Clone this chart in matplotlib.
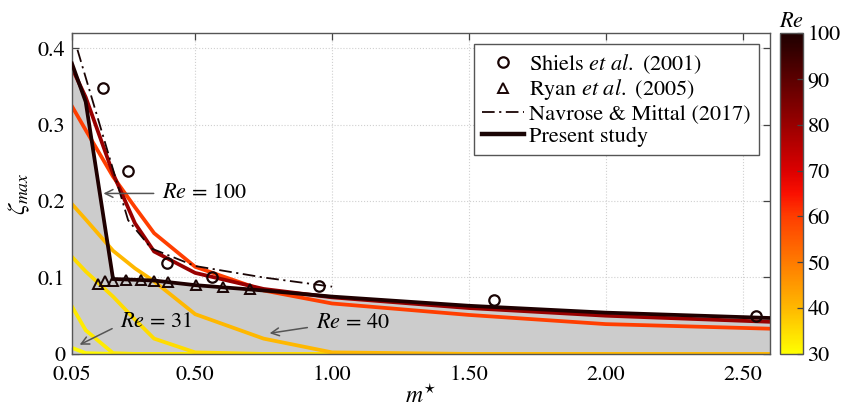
import numpy as np
import matplotlib
matplotlib.use("Agg")
from matplotlib import pyplot as plt
from matplotlib.colors import LinearSegmentedColormap, Normalize
from matplotlib.cm import ScalarMappable

# Times-like look: STIX ships with matplotlib
plt.rcParams["font.family"] = ["STIXGeneral", "Liberation Serif", "DejaVu Serif"]
plt.rcParams["mathtext.fontset"] = "stix"

# present study: zeta_max vs m* for several Re
m_grid = [0.05, 0.1, 0.2, 0.28, 0.35, 0.5, 0.75, 1.0, 1.5, 2.0, 2.6]
re_values = [31, 33, 35, 40, 60, 80, 100]
nan = np.nan
zeta_re31 = [0.008, 0.001, 0.0, 0.0, 0.0, 0.0, 0.0, 0.0, 0.0, 0.0, nan]
zeta_re33 = [0.062, 0.031, 0.001, 0.0, 0.0, 0.0, 0.0, 0.0, 0.0, 0.0, nan]
zeta_re35 = [0.127, 0.108, 0.075, 0.045, 0.020, 0.002, 0.0, 0.0, 0.0, 0.0, nan]
zeta_re40 = [0.196, 0.176, 0.135, 0.112, 0.095, 0.052, 0.020, 0.002, 0.0, 0.0, 0.0]
zeta_re60 = [0.324, 0.293, 0.232, 0.192, 0.158, 0.114, 0.083, 0.066, 0.051, 0.039, 0.033]
zeta_re80 = [0.374, 0.336, 0.236, 0.171, 0.134, 0.106, 0.085, 0.074, 0.060, 0.050, 0.042]
zeta_re100 = [0.380, 0.330, 0.098, 0.097, 0.096, 0.090, 0.083, 0.075, 0.063, 0.054, 0.047]
zeta_all = [zeta_re31, zeta_re33, zeta_re35, zeta_re40, zeta_re60, zeta_re80, zeta_re100]

# literature
shiels_m = [0.162, 0.255, 0.398, 0.56, 0.953, 1.59, 2.547]
shiels_zeta = [0.348, 0.239, 0.119, 0.100, 0.089, 0.070, 0.050]
ryan_m = [0.145, 0.171, 0.2, 0.249, 0.302, 0.35, 0.402, 0.502, 0.6, 0.7]
ryan_zeta = [0.092, 0.095, 0.096, 0.097, 0.097, 0.096, 0.094, 0.090, 0.087, 0.085]
navrose_m = [0.07, 0.255, 0.34, 0.5, 0.75, 1.0]
navrose_zeta = [0.398, 0.175, 0.138, 0.115, 0.100, 0.088]

cmap = LinearSegmentedColormap.from_list("re_map", [
    (0.0, (1.0, 1.0, 0.0)),
    (1 / 7, (1.0, 0.72, 0.0)),
    (2 / 7, (1.0, 0.48, 0.0)),
    (3 / 7, (1.0, 0.24, 0.0)),
    (3.5 / 7, (0.98, 0.06, 0.0)),
    (4 / 7, (0.86, 0.0, 0.0)),
    (5 / 7, (0.60, 0.0, 0.0)),
    (6 / 7, (0.36, 0.0, 0.0)),
    (1.0, (0.12, 0.0, 0.0)),
])
norm = Normalize(vmin=30, vmax=100)

fig = plt.figure(figsize=(8.42, 4.12), dpi=100)
ax = fig.add_axes([0.0855, 0.141, 0.829, 0.779])
cax = fig.add_axes([0.926, 0.141, 0.028, 0.779])

fs = 16
dark = "#1a0505"

ax.fill_between(m_grid, 0, zeta_re100, color="#cccccc", lw=0, zorder=1)

# draw order so black ends on top of the reds, and yellow along the bottom
order = [3, 4, 5, 6, 2, 1, 0]
for i in order:
    ax.plot(m_grid, zeta_all[i], color=cmap(norm(re_values[i])), lw=2.7,
            zorder=2 + 0.1 * i, solid_joinstyle="miter")

ax.plot(navrose_m, navrose_zeta, color=dark, lw=1.3, ls=(0, (7, 2.5, 1.2, 2.5)),
        zorder=3, label="Navrose & Mittal (2017)")
ax.plot(shiels_m, shiels_zeta, ls="none", marker="o", ms=7.5, mfc="none",
        mec=dark, mew=1.6, zorder=4, label=r"Shiels $\it{et\ al.}$ (2001)")
ax.plot(ryan_m, ryan_zeta, ls="none", marker="^", ms=7.5, mfc="none",
        mec=dark, mew=1.4, zorder=4, label=r"Ryan $\it{et\ al.}$ (2005)")
ax.plot([], [], color=dark, lw=3.2, label="Present study")

handles, labels = ax.get_legend_handles_labels()
handles = [handles[1], handles[2], handles[0], handles[3]]
labels = [labels[1], labels[2], labels[0], labels[3]]
leg = ax.legend(handles, labels, loc="upper right", fontsize=fs, frameon=True,
                fancybox=False, framealpha=1, edgecolor="#555555",
                borderaxespad=0.5, labelspacing=0.08, handlelength=1.9,
                handletextpad=0.25, borderpad=0.35)
leg.get_frame().set_linewidth(1.0)
leg.set_zorder(10)

arrow_kw = dict(arrowstyle="->", color="#555555", lw=1.1, mutation_scale=14)
ax.annotate("$Re$ = 100", xy=(0.165, 0.210), xytext=(0.379, 0.210),
            fontsize=fs, va="center", ha="left", zorder=6,
            arrowprops=dict(arrow_kw, shrinkA=4, shrinkB=0))
ax.annotate("$Re$ = 31", xy=(0.078, 0.012), xytext=(0.225, 0.042),
            fontsize=fs, va="center", ha="left", zorder=6,
            arrowprops=dict(arrow_kw, shrinkA=4, shrinkB=0,
                            relpos=(0.0, 0.35)))
ax.annotate("$Re$ = 40", xy=(0.772, 0.027), xytext=(0.94, 0.040),
            fontsize=fs, va="center", ha="left", zorder=6,
            arrowprops=dict(arrow_kw, shrinkA=4, shrinkB=0,
                            relpos=(0.0, 0.35)))

ax.set_xlim(0.05, 2.6)
ax.set_ylim(0, 0.42)
ax.set_xticks([0.05, 0.5, 1.0, 1.5, 2.0, 2.5])
ax.set_xticklabels(["0.05", "0.50", "1.00", "1.50", "2.00", "2.50"])
ax.set_yticks([0, 0.1, 0.2, 0.3, 0.4])
ax.set_yticklabels(["0", "0.1", "0.2", "0.3", "0.4"])
ax.tick_params(direction="in", top=True, right=True, labelsize=fs,
               length=5, width=0.9, color="#444444", pad=5)
ax.tick_params(axis="x", pad=8)
ax.grid(True, ls=":", color="#d0d0d0", lw=0.8)
ax.set_axisbelow(True)
for s in ax.spines.values():
    s.set_color("#555555")
    s.set_linewidth(1.0)
ax.set_xlabel(r"$m^{\star}$", fontsize=fs + 1, labelpad=0)
ax.set_ylabel(r"$\zeta_{max}$", fontsize=fs + 2, labelpad=4)

sm = ScalarMappable(norm=norm, cmap=cmap)
cb = fig.colorbar(sm, cax=cax)
cb.set_ticks([30, 40, 50, 60, 70, 80, 90, 100])
cb.ax.tick_params(direction="in", labelsize=fs, length=4, width=0.9,
                  color="#444444", pad=3)
cb.outline.set_edgecolor("#555555")
cb.outline.set_linewidth(1.0)
cax.set_title("$Re$", fontsize=fs, pad=4)

fig.savefig("out.png", dpi=100)
